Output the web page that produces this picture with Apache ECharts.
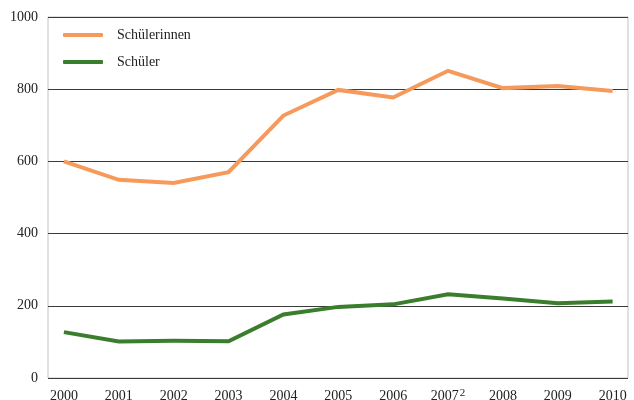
<!DOCTYPE html>
<html>
<head>
<meta charset="utf-8">
<script src="https://cdn.jsdelivr.net/npm/echarts@6/dist/echarts.min.js"></script>
<style>
  html, body { margin: 0; padding: 0; background: #fff; }
  #chart { width: 634px; height: 400px; }
</style>
</head>
<body>
<div id="chart"></div>
<script>
// Years on the horizontal axis; the 2007 label carries footnote mark 2
const years = ['2000', '2001', '2002', '2003', '2004', '2005', '2006', '2007', '2008', '2009', '2010'];
const footnotes = { '2007': '2' };

// Counts per year
const schuelerinnen = [600, 549, 540, 570, 727, 798, 777, 851, 803, 809, 795];
const schueler = [127, 101, 103, 102, 176, 197, 204, 232, 220, 207, 212];

// Value axis ticks
const yTicks = [0, 200, 400, 600, 800, 1000];

const FONT = '"Liberation Serif", "DejaVu Serif", serif';
const ORANGE = '#F69A5C';
const GREEN = '#3A7D2C';

// Horizontal extent: a little room before the first and after the last year
const X_MIN = -0.29;
const X_MAX = 10.28;

const idx = years.map((_, i) => i);
const pairs = vals => vals.map((v, i) => [i, v]);

const chart = echarts.init(document.getElementById('chart'), null, { renderer: 'canvas' });

chart.setOption({
  animation: false,
  backgroundColor: '#ffffff',
  textStyle: { fontFamily: FONT },
  // light frame on the sides of the plot; top and bottom sit under the grid lines
  grid: {
    left: 48, right: 6, top: 17, bottom: 22,
    containLabel: false, outerBoundsMode: 'none',
    show: true, borderColor: '#c2c2c2', borderWidth: 1, backgroundColor: 'transparent'
  },
  legend: {
    orient: 'vertical',
    left: 63,
    top: 28,
    padding: 0,
    itemWidth: 40,
    itemHeight: 4,
    itemGap: 13,
    icon: 'roundRect',
    textStyle: { fontFamily: FONT, fontSize: 14, color: '#222', padding: [0, 0, 0, 9] },
    data: ['Schülerinnen', 'Schüler']
  },
  xAxis: {
    type: 'value',
    min: X_MIN,
    max: X_MAX,
    axisLine: { show: false, onZero: false },
    axisTick: { show: false },
    splitLine: { show: false },
    axisLabel: {
      customValues: idx,
      margin: 10,
      fontFamily: FONT,
      fontSize: 14,
      color: '#222',
      formatter: v => {
        const y = years[Math.round(v)];
        return footnotes[y]
          ? '{yr|' + y + '}{sup|' + footnotes[y] + '}'
          : '{yr|' + y + '}';
      },
      rich: {
        yr: { fontFamily: FONT, fontSize: 14, color: '#222', lineHeight: 16 },
        sup: { fontFamily: FONT, fontSize: 11, color: '#222', lineHeight: 8, verticalAlign: 'top', padding: [0, 0, 0, 1] }
      }
    }
  },
  yAxis: {
    type: 'value',
    min: yTicks[0],
    max: yTicks[yTicks.length - 1],
    interval: 200,
    axisLine: { show: false },
    axisTick: { show: false },
    axisLabel: { margin: 10, fontFamily: FONT, fontSize: 14, color: '#222', formatter: v => String(v) },
    splitLine: { show: true, lineStyle: { color: '#3a3a3a', width: 1 } }
  },
  series: [
    {
      name: 'Schülerinnen',
      type: 'line',
      data: pairs(schuelerinnen),
      showSymbol: false,
      symbol: 'none',
      color: ORANGE,
      lineStyle: { color: ORANGE, width: 4, join: 'miter' },
      z: 3
    },
    {
      name: 'Schüler',
      type: 'line',
      data: pairs(schueler),
      showSymbol: false,
      symbol: 'none',
      color: GREEN,
      lineStyle: { color: GREEN, width: 4, join: 'miter' },
      z: 3
    }
  ]
});
</script>
</body>
</html>
